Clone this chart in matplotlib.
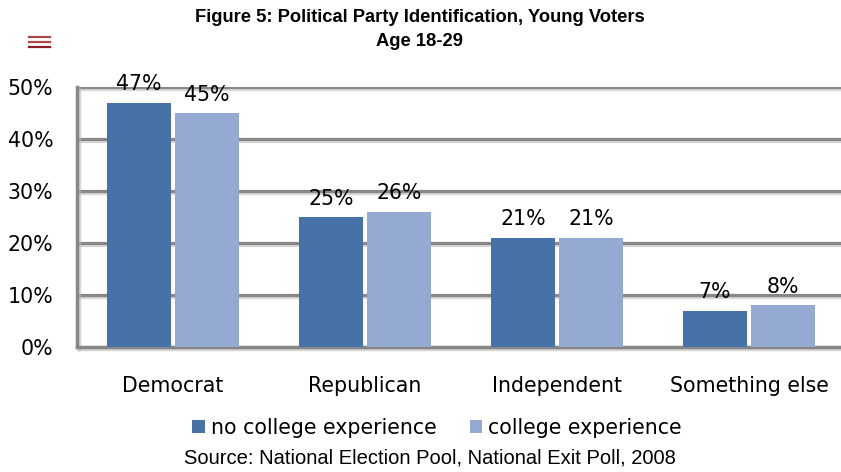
import matplotlib
matplotlib.use("Agg")
import matplotlib.pyplot as plt
import matplotlib.patheffects as pe
import numpy as np

categories = ["Democrat", "Republican", "Independent", "Something else"]
no_college = [47, 25, 21, 7]
college = [45, 26, 21, 8]
series_names = ["no college experience", "college experience"]
y_ticks = [0, 10, 20, 30, 40, 50]
title_lines = ["Figure 5: Political Party Identification, Young Voters", "Age 18-29"]
source_text = "Source: National Election Pool, National Exit Poll, 2008"

dark_blue = "#4672A8"
light_blue = "#95AAD2"
grid_gray = "#878787"

W, H = 841, 472
fig = plt.figure(figsize=(W / 100, H / 100), dpi=100)

body_font = ["DejaVu Sans"]
title_font = ["Liberation Sans"]
body_size = 14.8

ax = fig.add_axes([77 / W, (H - 347) / H, 768 / W, 260 / H])
x = np.arange(len(categories))
bw = 0.333
off = 0.177
ax.bar(x - off, no_college, bw, color=dark_blue, zorder=3, label=series_names[0])
ax.bar(x + off, college, bw, color=light_blue, zorder=3, label=series_names[1])

for xi, v in zip(x - off, no_college):
    ax.annotate(f"{v}%", (xi, v), xytext=(0, 6), textcoords="offset points",
                ha="center", va="bottom", fontsize=body_size, family=body_font, zorder=4)
for xi, v in zip(x + off, college):
    ax.annotate(f"{v}%", (xi, v), xytext=(0, 6), textcoords="offset points",
                ha="center", va="bottom", fontsize=body_size, family=body_font, zorder=4)

ax.set_xlim(-0.5, len(categories) - 0.5)
ax.set_ylim(0, 50)
ax.set_yticks(y_ticks)
ax.set_yticklabels([f"{t}%" for t in y_ticks], fontsize=body_size, family=body_font)
ax.set_xticks(x)
ax.set_xticklabels(categories, fontsize=body_size, family=body_font)
ax.tick_params(axis="both", length=0)
ax.tick_params(axis="y", pad=17)
ax.tick_params(axis="x", pad=21)

shadow = [pe.SimpleLineShadow(offset=(1.2, -1.2), shadow_color="#bbbbbb", alpha=0.6), pe.Normal()]
for t in y_ticks[1:]:
    ax.axhline(t, color=grid_gray, lw=2.3, zorder=1, path_effects=shadow)

for s in ["top", "right"]:
    ax.spines[s].set_visible(False)
for s in ["left", "bottom"]:
    ax.spines[s].set_color(grid_gray)
    ax.spines[s].set_linewidth(2.5)
    ax.spines[s].set_path_effects(shadow)
    ax.spines[s].set_zorder(2)

fig.text(420 / W, 1 - 18 / H, title_lines[0], ha="center", va="center",
         fontsize=13.2, fontweight="bold", family=title_font)
fig.text(420 / W, 1 - 41 / H, title_lines[1], ha="center", va="center",
         fontsize=13.2, fontweight="bold", family=title_font)

# menu glyph in the top-left corner
for yy, c in zip([37, 42, 47], ["#a84848", "#a84848", "#8a1f22"]):
    fig.add_artist(plt.Line2D([29 / W, 50 / W], [1 - yy / H, 1 - yy / H],
                              color=c, lw=1.6, transform=fig.transFigure))

handles, labels = ax.get_legend_handles_labels()
fig.legend(handles, labels, loc="center", bbox_to_anchor=(437 / W, 1 - 428 / H),
           ncol=2, frameon=False, handlelength=0.6, handleheight=0.6,
           handletextpad=0.3, columnspacing=1.6,
           prop={"family": body_font, "size": body_size})

fig.text(430 / W, 1 - 458 / H, source_text, ha="center", va="center",
         fontsize=14.5, family=title_font)

fig.savefig("out.png", dpi=100)
